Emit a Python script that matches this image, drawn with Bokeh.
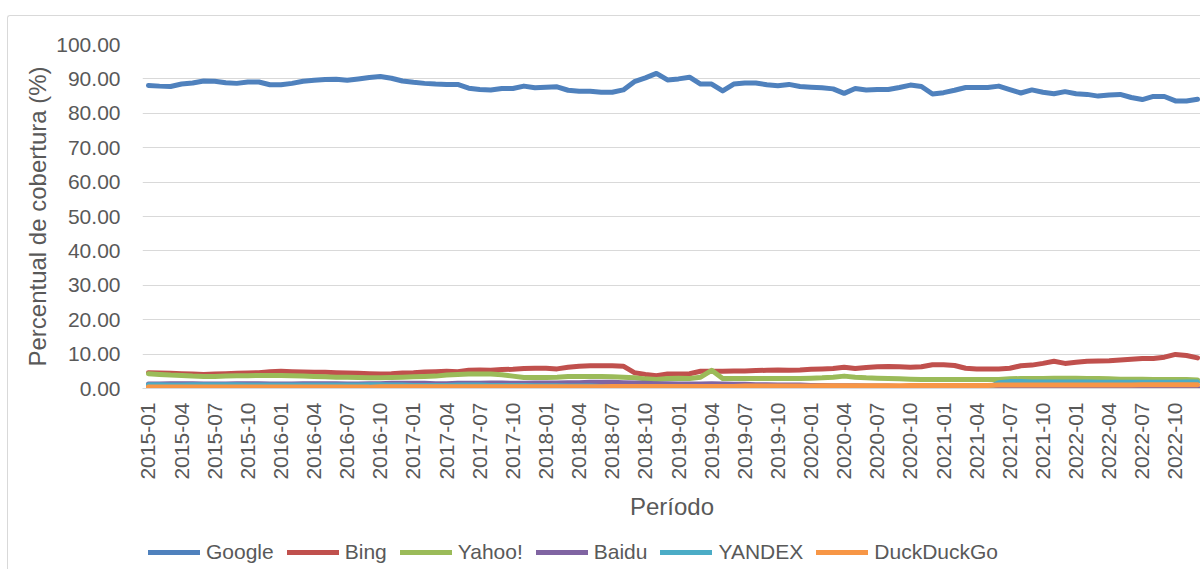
import math
from bokeh.plotting import figure
from bokeh.layouts import column
from bokeh.models import FixedTicker, Legend, LegendItem, Range1d, NumeralTickFormatter
from bokeh.embed import file_html
from bokeh.resources import INLINE

years = [2015, 2016, 2017, 2018, 2019, 2020, 2021, 2022]
months = ["01", "02", "03", "04", "05", "06", "07", "08", "09", "10", "11", "12"]
periods = [f"{y}-{m}" for y in years for m in months]
x = list(range(len(periods)))

series_names = ["Google", "Bing", "Yahoo!", "Baidu", "YANDEX", "DuckDuckGo"]
series_colors = ["#4F81BD", "#C0504D", "#9BBB59", "#8064A2", "#4BACC6", "#F79646"]

google = [88.1, 87.9, 87.8, 88.5, 88.8, 89.4, 89.3, 88.9, 88.7, 89.1, 89.1, 88.3,
          88.3, 88.7, 89.3, 89.6, 89.8, 89.9, 89.6, 90.0, 90.4, 90.7, 90.2, 89.4,
          89.0, 88.7, 88.5, 88.4, 88.4, 87.3, 86.9, 86.8, 87.2, 87.2, 87.9, 87.4,
          87.6, 87.7, 86.7, 86.4, 86.4, 86.1, 86.1, 86.8, 89.2, 90.3, 91.6, 89.7,
          90.0, 90.5, 88.5, 88.5, 86.5, 88.5, 88.8, 88.8, 88.3, 88.0, 88.4, 87.8,
          87.6, 87.4, 87.1, 85.8, 87.2, 86.8, 86.9, 86.9, 87.5, 88.2, 87.8, 85.6,
          86.0, 86.7, 87.5, 87.5, 87.5, 87.9, 86.9, 85.9, 86.8, 86.1, 85.7, 86.3,
          85.7, 85.5, 85.0, 85.3, 85.5, 84.6, 84.0, 84.9, 84.9, 83.6, 83.6, 84.1]

bing = [4.6, 4.5, 4.4, 4.3, 4.2, 4.1, 4.2, 4.3, 4.4, 4.5, 4.6, 4.9,
        5.0, 4.9, 4.8, 4.7, 4.7, 4.6, 4.5, 4.4, 4.3, 4.2, 4.3, 4.5,
        4.6, 4.8, 4.9, 5.0, 4.9, 5.3, 5.4, 5.3, 5.5, 5.6, 5.8, 5.9,
        5.9, 5.7, 6.2, 6.5, 6.6, 6.6, 6.6, 6.5, 4.6, 4.1, 3.7, 4.2,
        4.2, 4.3, 5.0, 5.0, 5.0, 5.1, 5.1, 5.2, 5.3, 5.4, 5.3, 5.4,
        5.6, 5.7, 5.8, 6.2, 5.8, 6.1, 6.3, 6.4, 6.3, 6.2, 6.3, 6.9,
        6.9, 6.7, 5.9, 5.7, 5.7, 5.7, 5.9, 6.6, 6.8, 7.3, 7.9, 7.3,
        7.6, 7.9, 8.0, 8.1, 8.3, 8.5, 8.7, 8.7, 9.1, 9.9, 9.6, 8.9]

yahoo = [4.3, 4.1, 3.9, 3.8, 3.6, 3.5, 3.5, 3.6, 3.7, 3.7, 3.8, 3.8,
         3.8, 3.7, 3.6, 3.5, 3.4, 3.3, 3.3, 3.2, 3.1, 3.1, 3.2, 3.3,
         3.4, 3.5, 3.6, 3.9, 4.1, 4.2, 4.2, 4.2, 4.0, 3.6, 3.2, 3.2,
         3.2, 3.3, 3.5, 3.5, 3.5, 3.5, 3.4, 3.3, 3.1, 2.8, 2.6, 2.9,
         3.0, 2.9, 3.3, 5.3, 2.9, 2.9, 2.9, 2.9, 2.9, 2.9, 2.9, 2.9,
         3.0, 3.1, 3.3, 3.6, 3.3, 3.1, 3.0, 2.9, 2.8, 2.7, 2.6, 2.6,
         2.6, 2.6, 2.6, 2.6, 2.6, 2.6, 2.8, 2.9, 2.9, 2.9, 3.0, 3.0,
         3.0, 2.9, 2.9, 2.8, 2.7, 2.7, 2.7, 2.6, 2.6, 2.6, 2.6, 2.5]

baidu = [1.3, 1.3, 1.4, 1.4, 1.4, 1.3, 1.3, 1.3, 1.4, 1.4, 1.4, 1.3,
         1.3, 1.3, 1.4, 1.4, 1.4, 1.4, 1.3, 1.3, 1.4, 1.4, 1.5, 1.5,
         1.5, 1.5, 1.4, 1.4, 1.5, 1.5, 1.5, 1.6, 1.6, 1.5, 1.5, 1.6,
         1.6, 1.6, 1.7, 1.7, 1.8, 1.8, 1.8, 1.7, 1.6, 1.5, 1.4, 1.4,
         1.3, 1.3, 1.3, 1.4, 1.3, 1.2, 1.2, 1.1, 1.1, 1.0, 1.0, 1.0,
         0.9, 0.9, 0.8, 0.8, 0.8, 0.7, 0.7, 0.7, 0.6, 0.6, 0.6, 0.6,
         0.5, 0.5, 0.5, 0.5, 0.4, 0.4, 0.4, 0.4, 0.4, 0.3, 0.3, 0.3,
         0.3, 0.3, 0.3, 0.3, 0.3, 0.3, 0.3, 0.3, 0.3, 0.3, 0.3, 0.3]

yandex = [1.1, 1.1, 1.0, 1.0, 1.1, 1.1, 1.1, 1.1, 1.1, 1.0, 1.0, 1.0,
          1.0, 1.0, 1.0, 1.0, 1.0, 1.0, 1.0, 1.0, 1.1, 1.1, 1.0, 1.0,
          0.9, 0.9, 0.9, 0.9, 1.0, 1.0, 1.0, 0.9, 0.9, 0.9, 0.9, 0.8,
          0.8, 0.8, 0.7, 0.7, 0.7, 0.6, 0.6, 0.6, 0.5, 0.5, 0.5, 0.4,
          0.4, 0.4, 0.4, 0.3, 0.3, 0.3, 0.3, 0.3, 0.3, 0.3, 0.3, 0.3,
          0.3, 0.3, 0.2, 0.2, 0.2, 0.2, 0.2, 0.2, 0.2, 0.2, 0.2, 0.2,
          0.2, 0.2, 0.2, 0.2, 0.2, 1.7, 2.0, 2.0, 1.9, 1.9, 1.9, 1.9,
          1.9, 1.9, 1.8, 1.8, 1.8, 1.8, 1.8, 1.8, 1.8, 1.8, 1.9, 1.9]

duckduckgo = [0.4, 0.4, 0.4, 0.4, 0.4, 0.4, 0.4, 0.4, 0.4, 0.4, 0.4, 0.4,
              0.4, 0.4, 0.4, 0.4, 0.4, 0.4, 0.4, 0.4, 0.4, 0.5, 0.5, 0.5,
              0.5, 0.5, 0.5, 0.5, 0.5, 0.5, 0.5, 0.5, 0.5, 0.5, 0.5, 0.5,
              0.5, 0.5, 0.5, 0.5, 0.5, 0.5, 0.6, 0.6, 0.6, 0.6, 0.6, 0.6,
              0.6, 0.6, 0.6, 0.6, 0.6, 0.6, 0.7, 0.7, 0.7, 0.7, 0.7, 0.7,
              0.7, 0.8, 0.8, 0.8, 0.8, 0.8, 0.8, 0.8, 0.8, 0.9, 0.9, 0.9,
              0.9, 0.9, 0.9, 0.9, 0.9, 1.0, 1.0, 1.0, 1.0, 1.0, 1.0, 1.0,
              1.0, 1.0, 1.0, 1.0, 1.0, 1.0, 1.1, 1.1, 1.1, 1.1, 1.1, 1.1]

all_series = [google, bing, yahoo, baidu, yandex, duckduckgo]
y_ticks = [0, 10, 20, 30, 40, 50, 60, 70, 80, 90, 100]
x_tick_step = 3

FONT = "Liberation Sans"
TXT = "#595959"
GRID = "#d9d9d9"

# ---------------- main chart ----------------
p = figure(width=1193, height=514, output_backend="svg", toolbar_location=None,
           x_range=Range1d(-0.54, 95.36), y_range=Range1d(0, 100),
           min_border_left=134, min_border_right=0, min_border_top=28,
           min_border_bottom=142)
p.margin = (15, 0, 0, 7)
p.styles = {"border-left": "1px solid #d9d9d9", "border-top": "1px solid #d9d9d9",
            "border-top-left-radius": "3px"}
p.outline_line_color = None
p.background_fill_color = "white"
p.border_fill_color = "white"

for color, ys in zip(series_colors, all_series):
    p.line(x, ys, line_color=color, line_width=5,
           line_join="round", line_cap="round")

p.xgrid.visible = False
p.ygrid.grid_line_color = GRID
p.ygrid.grid_line_width = 1

xt = list(range(0, len(periods), x_tick_step))
p.xaxis.ticker = FixedTicker(ticks=xt)
p.xaxis.major_label_overrides = {i: periods[i] for i in xt}
p.xaxis.major_label_orientation = math.pi / 2
p.xaxis.axis_label = "Período"
p.xaxis.axis_line_color = GRID
p.xaxis.major_label_standoff = 14
p.xaxis.axis_label_standoff = 10

p.yaxis.ticker = FixedTicker(ticks=y_ticks)
p.yaxis.formatter = NumeralTickFormatter(format="0.00")
p.yaxis.axis_label = "Percentual de cobertura (%)"
p.yaxis.axis_line_color = None
p.yaxis.major_label_standoff = 22
p.yaxis.axis_label_standoff = 2

for ax in (p.xaxis, p.yaxis):
    ax.major_tick_line_color = None
    ax.minor_tick_line_color = None
    ax.major_tick_out = 0
    ax.major_tick_in = 0
    ax.major_label_text_font = FONT
    ax.major_label_text_font_size = "21px"
    ax.major_label_text_color = TXT
    ax.axis_label_text_font = FONT
    ax.axis_label_text_font_size = "24px"
    ax.axis_label_text_font_style = "normal"
    ax.axis_label_text_color = TXT

# ---------------- legend strip ----------------
# same series drawn in a strip whose y range lies far above the data,
# so only the legend entries are visible
pl = figure(width=1193, height=40, output_backend="svg", toolbar_location=None,
            x_range=Range1d(-0.54, 95.36), y_range=Range1d(1000, 1001),
            min_border=0, min_border_left=0, min_border_right=0,
            min_border_top=0, min_border_bottom=0)
pl.margin = (0, 0, 0, 7)
pl.styles = {"border-left": "1px solid #d9d9d9"}
pl.axis.visible = False
pl.grid.visible = False
pl.outline_line_color = None
pl.background_fill_color = "white"
pl.border_fill_color = "white"

items = []
for name, color, ys in zip(series_names, series_colors, all_series):
    r = pl.line(x, ys, line_color=color, line_width=5, line_cap="round")
    items.append(LegendItem(label=name, renderers=[r]))

legend = Legend(items=items, orientation="horizontal", location=(6, 5),
                glyph_width=52, glyph_height=24, label_height=24,
                label_standoff=6, spacing=13,
                padding=0, margin=0, border_line_color=None,
                background_fill_alpha=0,
                label_text_font=FONT, label_text_font_size="21px",
                label_text_color=TXT)
pl.add_layout(legend, "center")

layout = column(p, pl, spacing=0)
open("out.html", "w").write(file_html(layout, INLINE))
